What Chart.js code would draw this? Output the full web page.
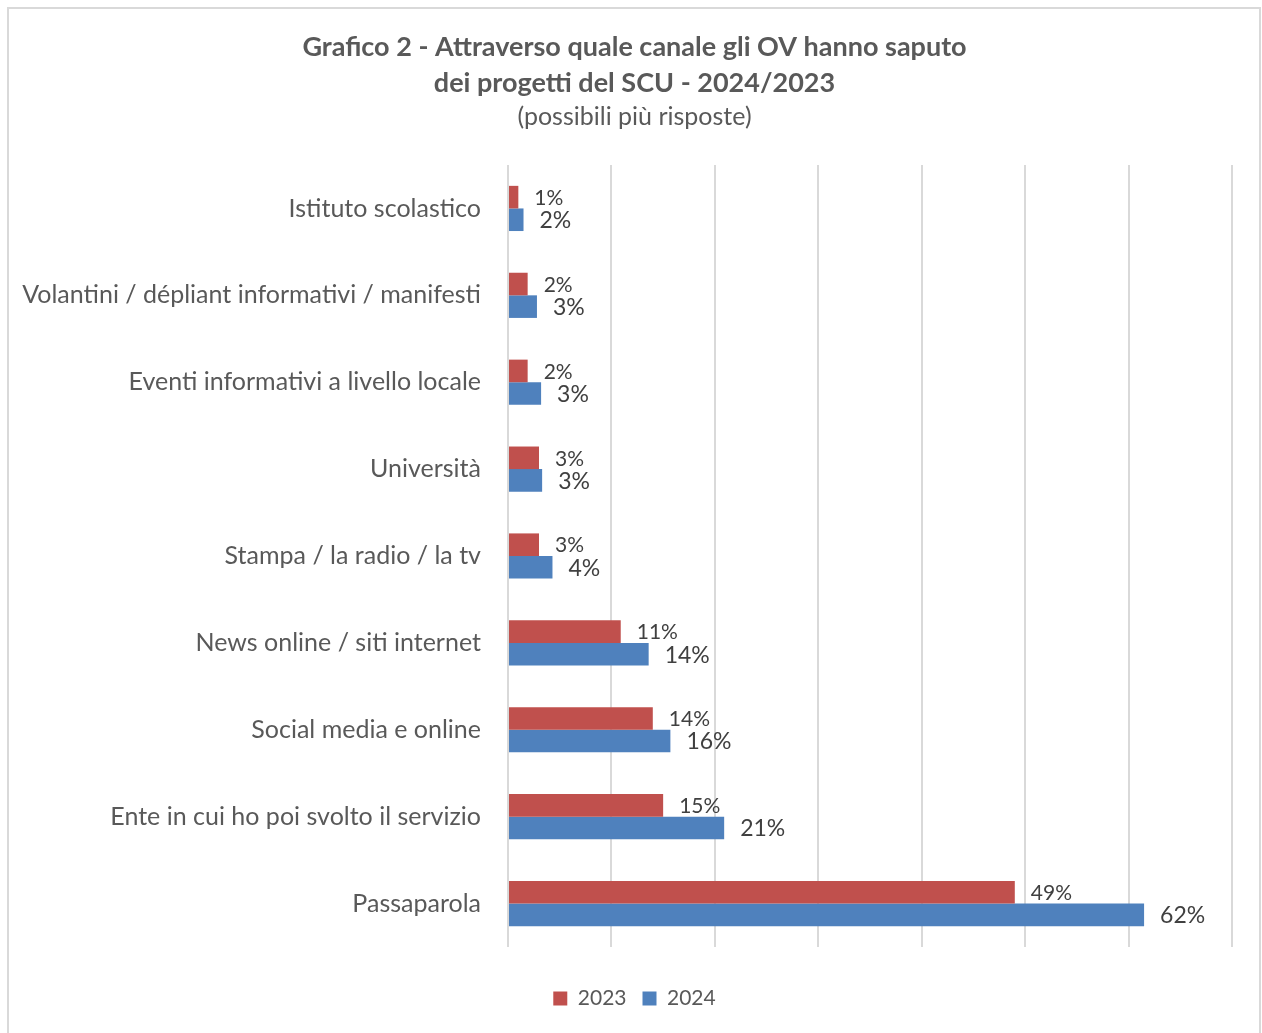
<!DOCTYPE html>
<html>
<head>
<meta charset="utf-8">
<script src="https://cdn.jsdelivr.net/npm/chart.js@4/dist/chart.umd.min.js"></script>
<style>
  html, body { margin: 0; padding: 0; background: #fff; }
  #wrap { position: relative; width: 1262px; height: 1033px; }
  #frame { position: absolute; left: 7px; top: 7px; width: 1254px; height: 1040px; border: 2px solid #d9d9d9; box-sizing: border-box; pointer-events: none; }
  canvas { position: absolute; left: 0; top: 0; }
</style>
</head>
<body>
<div id="wrap">
  <canvas id="c" width="1262" height="1033"></canvas>
  <div id="frame"></div>
</div>
<script>
const categories = [
  "Istituto scolastico",
  "Volantini / dépliant informativi / manifesti",
  "Eventi informativi a livello locale",
  "Università",
  "Stampa / la radio / la tv",
  "News online / siti internet",
  "Social media e online",
  "Ente in cui ho poi svolto il servizio",
  "Passaparola"
];
const values2023 = [1.0, 1.9, 1.9, 3.0, 3.0, 10.9, 14.0, 15.0, 49.0];
const values2024 = [1.5, 2.8, 3.2, 3.3, 4.3, 13.6, 15.7, 20.9, 61.5];
const seriesNames = ["2023", "2024"];
const xTicks = [0, 10, 20, 30, 40, 50, 60, 70];

const FONT = "Lato, 'Open Sans', sans-serif";
const TEXT = "#595959";

const labelPlugin = {
  id: 'barLabels',
  beforeDraw(chart) {
    // let long category labels extend past the left padding (no clipping)
    chart.scales.y._computeLabelArea = () => undefined;
  },
  afterDatasetsDraw(chart) {
    const ctx = chart.ctx;
    chart.data.datasets.forEach((ds, di) => {
      const meta = chart.getDatasetMeta(di);
      const size = di === 0 ? 21 : 23;
      ctx.save();
      ctx.font = size + "px " + FONT;
      ctx.fillStyle = "#404040";
      ctx.textAlign = "left";
      ctx.textBaseline = "middle";
      meta.data.forEach((bar, i) => {
        ctx.fillText(Math.round(ds.data[i]) + "%", bar.x + 16, bar.y + 1);
      });
      ctx.restore();
    });
  }
};

new Chart(document.getElementById('c'), {
  type: 'bar',
  data: {
    labels: categories,
    datasets: [
      { label: seriesNames[0], data: values2023, backgroundColor: "#C0504D", categoryPercentage: 0.52, barPercentage: 1.0 },
      { label: seriesNames[1], data: values2024, backgroundColor: "#4F81BD", categoryPercentage: 0.52, barPercentage: 1.0 }
    ]
  },
  options: {
    indexAxis: 'y',
    responsive: false,
    animation: false,
    layout: { padding: { left: 37, right: 30, top: 0, bottom: 14 } },
    scales: {
      x: {
        min: xTicks[0], max: xTicks[xTicks.length - 1],
        afterBuildTicks(scale) { scale.ticks = xTicks.map(v => ({ value: v })); },
        afterFit(scale) { scale.height = 25; },
        ticks: { display: false },
        grid: { color: "#d9d9d9", lineWidth: 2, drawTicks: false },
        border: { display: false }
      },
      y: {
        afterFit(scale) { scale.width = 471; },
        ticks: { font: { family: FONT, size: 25 }, color: TEXT, padding: 27 },
        grid: { display: false, drawTicks: false },
        border: { display: false }
      }
    },
    plugins: {
      title: {
        display: true,
        text: ["Grafico 2 - Attraverso quale canale gli OV hanno saputo", "dei progetti del SCU - 2024/2023"],
        font: { family: FONT, size: 27, weight: 'bold', lineHeight: 1.3333 },
        color: TEXT,
        padding: { top: 29, bottom: 1 }
      },
      subtitle: {
        display: true,
        text: "(possibili più risposte)",
        font: { family: FONT, size: 25, lineHeight: 1.2 },
        color: TEXT,
        padding: { top: 0, bottom: 33 }
      },
      legend: {
        position: 'bottom',
        labels: { font: { family: FONT, size: 21 }, color: TEXT, boxWidth: 14, boxHeight: 14, padding: 16 }
      },
      tooltip: { enabled: false }
    }
  },
  plugins: [labelPlugin]
});
</script>
</body>
</html>
